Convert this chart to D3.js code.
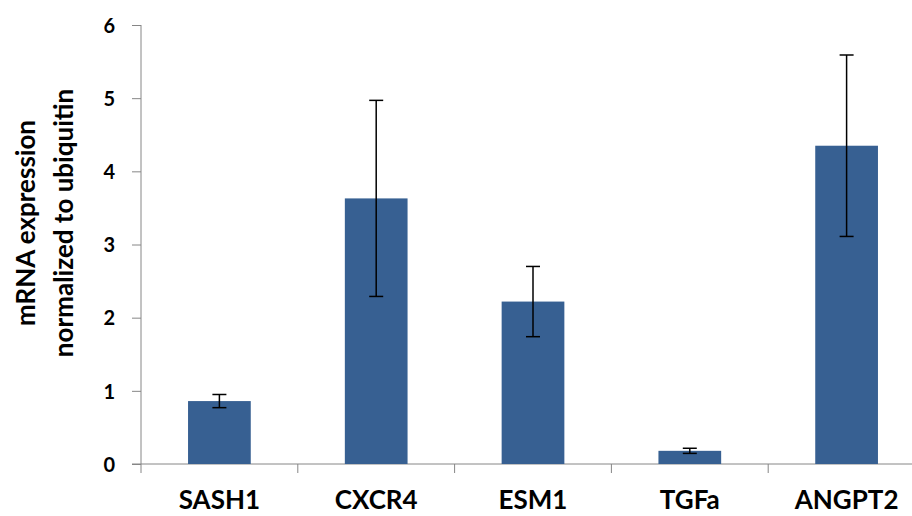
<!DOCTYPE html>
<html>
<head>
<meta charset="utf-8">
<script src="https://cdn.jsdelivr.net/npm/d3@7"></script>
<style>
  body { margin: 0; background: #fff; }
  text { font-family: Lato, "Open Sans", sans-serif; font-weight: bold; fill: #000; }
</style>
</head>
<body>
<svg id="chart" width="912" height="516"></svg>
<script>
// values
var genes = ['SASH1', 'CXCR4', 'ESM1', 'TGFa', 'ANGPT2'];
var means = [0.86, 3.63, 2.22, 0.18, 4.35];
var errs = [0.09, 1.34, 0.48, 0.035, 1.24];
var yTicks = [0, 1, 2, 3, 4, 5, 6];
var yTitle = ['mRNA expression', 'normalized to ubiquitin'];

var svg = d3.select('#chart');
var x0 = 141, x1 = 925, yTop = 25, yBot = 464;

var scaleX = d3.scaleBand()
    .domain(genes)
    .range([x0, x1])
    .paddingInner(0.6)
    .paddingOuter(0.3);

var scaleY = d3.scaleLinear()
    .domain([0, 6])
    .range([yBot, yTop]);

// y axis
var axisY = d3.axisLeft(scaleY).tickValues(yTicks).tickSize(9).tickPadding(17).tickFormat(d3.format('d'));
var gy = svg.append('g')
    .attr('class', 'yAxis')
    .attr('transform', 'translate(' + x0 + ',0)')
    .call(axisY);
gy.select('.domain').attr('stroke', '#868686').attr('d', 'M0,' + yTop + 'V' + (yBot + 9));
gy.selectAll('.tick line').attr('stroke', '#868686');
gy.selectAll('.tick text').style('font-size', '20px').attr('dy', '0.36em');

// x axis: ticks sit between categories, labels at centres
var gx = svg.append('g')
    .attr('class', 'xAxis')
    .attr('transform', 'translate(0,' + yBot + ')');
gx.append('path')
    .attr('d', 'M' + (x0 - 9) + ',0H' + x1)
    .attr('stroke', '#868686')
    .attr('fill', 'none');
var gap = (scaleX.step() - scaleX.bandwidth()) / 2;
gx.selectAll('.sep').data(genes.slice(1))
  .enter().append('line')
    .attr('class', 'sep')
    .attr('x1', function(d){ return scaleX(d) - gap; })
    .attr('x2', function(d){ return scaleX(d) - gap; })
    .attr('y1', 0).attr('y2', 9)
    .attr('stroke', '#868686');
gx.selectAll('.lab').data(genes)
  .enter().append('text')
    .attr('class', 'lab')
    .attr('x', function(d){ return scaleX(d) + scaleX.bandwidth() / 2; })
    .attr('y', 45)
    .attr('text-anchor', 'middle')
    .style('font-size', '26px')
    .text(function(d){ return d; });

// bars
svg.selectAll('.bar').data(genes)
  .enter().append('rect')
    .attr('class', 'bar')
    .attr('x', function(d){ return scaleX(d); })
    .attr('width', scaleX.bandwidth())
    .attr('y', function(d, i){ return scaleY(means[i]); })
    .attr('height', function(d, i){ return yBot - scaleY(means[i]); })
    .attr('fill', '#376092');

// error bars
var eb = svg.selectAll('.err').data(genes)
  .enter().append('g')
    .attr('class', 'err')
    .attr('transform', function(d){ return 'translate(' + (scaleX(d) + scaleX.bandwidth() / 2) + ',0)'; })
    .attr('stroke', '#000')
    .attr('stroke-width', 1.5);
eb.append('line')
    .attr('y1', function(d, i){ return scaleY(means[i] + errs[i]); })
    .attr('y2', function(d, i){ return scaleY(means[i] - errs[i]); });
eb.append('line')
    .attr('x1', -7).attr('x2', 7)
    .attr('y1', function(d, i){ return scaleY(means[i] + errs[i]); })
    .attr('y2', function(d, i){ return scaleY(means[i] + errs[i]); });
eb.append('line')
    .attr('x1', -7).attr('x2', 7)
    .attr('y1', function(d, i){ return scaleY(means[i] - errs[i]); })
    .attr('y2', function(d, i){ return scaleY(means[i] - errs[i]); });

// y title, two lines rotated
var title = svg.append('text')
    .attr('transform', 'translate(35,223) rotate(-90)')
    .attr('text-anchor', 'middle')
    .style('font-size', '26px');
title.selectAll('tspan').data(yTitle)
  .enter().append('tspan')
    .attr('x', 0)
    .attr('dy', function(d, i){ return i ? 38 : 0; })
    .text(function(d){ return d; });
</script>
</body>
</html>
